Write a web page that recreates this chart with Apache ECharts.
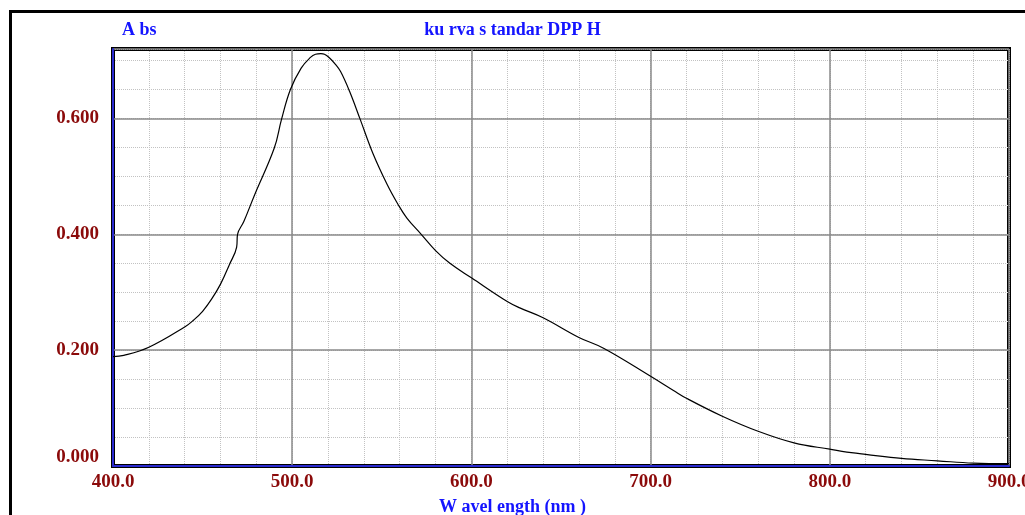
<!DOCTYPE html>
<html>
<head>
<meta charset="utf-8">
<script src="https://cdn.jsdelivr.net/npm/echarts@6/dist/echarts.min.js"></script>
<style>
  html, body { margin: 0; padding: 0; background: #fff; }
  #chart { width: 1025px; height: 515px; }
</style>
</head>
<body>
<div id="chart"></div>
<script>
// spectrum
const wavelength = [400, 406, 420, 440, 445, 450, 455, 460, 465, 469, 469.5, 473, 479, 490, 494, 499, 505, 510, 513, 516, 518, 521, 524, 527, 532, 538, 545, 553, 559, 564, 572, 580, 588, 600, 620, 627, 640, 660, 674, 700, 713, 720, 740, 760, 780, 800, 812, 820, 840, 860, 880, 900];
const absorbance = [0.189, 0.191, 0.205, 0.240, 0.252, 0.267, 0.288, 0.314, 0.348, 0.378, 0.400, 0.422, 0.468, 0.549, 0.598, 0.650, 0.687, 0.705, 0.711, 0.712, 0.711, 0.704, 0.694, 0.681, 0.647, 0.598, 0.540, 0.486, 0.452, 0.428, 0.400, 0.372, 0.350, 0.325, 0.284, 0.273, 0.256, 0.222, 0.203, 0.155, 0.130, 0.117, 0.086, 0.060, 0.040, 0.029, 0.023, 0.020, 0.013, 0.009, 0.005, 0.004];

const xTickLabels = ["400.0", "500.0", "600.0", "700.0", "800.0", "900.0"];
const yTickLabels = ["0.000", "0.200", "0.400", "0.600"];

const titleText = "ku rva s tandar DPP H";
const yName = "A bs";
const xName = "W avel ength (nm )";

const BLUE = "#1414ff";
const RED = "#8b0a0a";
const FONT = "'Liberation Serif', 'DejaVu Serif', serif";

const chart = echarts.init(document.getElementById("chart"));

const tickFont = { color: RED, fontFamily: FONT, fontWeight: "bold", fontSize: 19 };
const titleFont = { color: BLUE, fontFamily: FONT, fontWeight: "bold", fontSize: 18 };

chart.setOption({
  animation: false,
  backgroundColor: "#fff",
  title: [
    { text: titleText, left: "center", top: 16, textStyle: titleFont },
    { text: yName, left: 117, top: 16, textStyle: titleFont },
    { text: xName, left: "center", top: 493, textStyle: titleFont }
  ],
  graphic: [{
    type: "rect",
    shape: { x: 10.5, y: 11.5, width: 1100, height: 600 },
    style: { fill: "none", stroke: "#000", lineWidth: 3 },
    silent: true
  }],
  grid: {
    left: 113, right: 16, top: 49, bottom: 49,
    outerBoundsMode: "none", containLabel: false,
    show: true, borderColor: "#000", borderWidth: 4, backgroundColor: "#fff"
  },
  xAxis: [
    {
      type: "value", position: "bottom", min: 400, max: 900, interval: 20,
      axisLabel: { show: false }, axisTick: { show: false }, axisLine: { show: false },
      splitLine: { show: true, lineStyle: { color: "#c2c2c2", width: 1, type: [1, 1] } }
    },
    {
      type: "value", position: "bottom", min: 400, max: 900, interval: 100, z: 3,
      axisLabel: {
        ...tickFont, margin: 7,
        formatter: (v) => xTickLabels[Math.round((v - 400) / 100)] || ""
      },
      axisTick: { show: false },
      axisLine: { show: true, lineStyle: { color: "#2a2ad0", width: 2 } },
      splitLine: { show: true, lineStyle: { color: "#8a8a8a", width: 1.5 } }
    }
  ],
  yAxis: [
    {
      type: "value", position: "left", min: 0, max: 0.72, interval: 0.05,
      axisLabel: { show: false }, axisTick: { show: false }, axisLine: { show: false },
      splitLine: { show: true, lineStyle: { color: "#c2c2c2", width: 1, type: [1, 1] } }
    },
    {
      type: "value", position: "left", min: 0, max: 0.72, interval: 0.2, z: 3,
      axisLabel: {
        ...tickFont, margin: 14, showMaxLabel: false,
        formatter: (v) => {
          const s = yTickLabels[Math.round(v / 0.2)] || "";
          return v === 0 ? "{z|" + s + "}" : s;
        },
        rich: { z: { ...tickFont, padding: [0, 0, 18, 0] } }
      },
      axisTick: { show: false },
      axisLine: { show: true, lineStyle: { color: "#2a2ad0", width: 2 } },
      splitLine: { show: true, lineStyle: { color: "#8a8a8a", width: 1.5 } }
    }
  ],
  series: [{
    type: "line",
    xAxisIndex: 1,
    yAxisIndex: 1,
    data: wavelength.map((w, i) => [w, absorbance[i]]),
    smooth: 0.4,
    symbol: "none",
    z: 5,
    lineStyle: { color: "#000", width: 1.2 }
  }]
});
</script>
</body>
</html>
